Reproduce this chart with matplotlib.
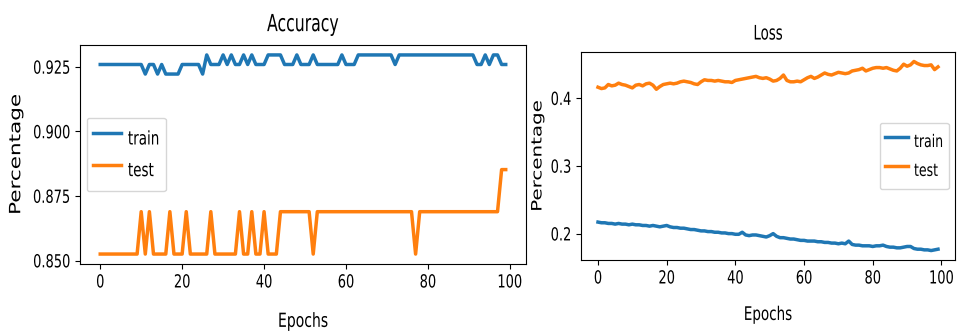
import matplotlib
matplotlib.use("Agg")
import matplotlib.pyplot as plt
from matplotlib.patheffects import AbstractPathEffect
from matplotlib.transforms import Affine2D
from matplotlib.ticker import MultipleLocator, FormatStrFormatter

epochs = list(range(100))

# accuracy per epoch
acc_train = [
    0.9259, 0.9259, 0.9259, 0.9259, 0.9259, 0.9259, 0.9259, 0.9259, 0.9259, 0.9259,
    0.9259, 0.9222, 0.9259, 0.9259, 0.9222, 0.9259, 0.9222, 0.9222, 0.9222, 0.9222,
    0.9259, 0.9259, 0.9259, 0.9259, 0.9259, 0.9222, 0.9296, 0.9259, 0.9259, 0.9259,
    0.9296, 0.9259, 0.9296, 0.9259, 0.9259, 0.9296, 0.9259, 0.9296, 0.9259, 0.9259,
    0.9259, 0.9296, 0.9296, 0.9296, 0.9296, 0.9259, 0.9259, 0.9259, 0.9296, 0.9259,
    0.9259, 0.9259, 0.9296, 0.9259, 0.9259, 0.9259, 0.9259, 0.9259, 0.9259, 0.9296,
    0.9259, 0.9259, 0.9259, 0.9296, 0.9296, 0.9296, 0.9296, 0.9296, 0.9296, 0.9296,
    0.9296, 0.9296, 0.9259, 0.9296, 0.9296, 0.9296, 0.9296, 0.9296, 0.9296, 0.9296,
    0.9296, 0.9296, 0.9296, 0.9296, 0.9296, 0.9296, 0.9296, 0.9296, 0.9296, 0.9296,
    0.9296, 0.9296, 0.9259, 0.9259, 0.9296, 0.9259, 0.9296, 0.9296, 0.9259, 0.9259,
]
acc_test = [
    0.8525, 0.8525, 0.8525, 0.8525, 0.8525, 0.8525, 0.8525, 0.8525, 0.8525, 0.8525,
    0.8689, 0.8525, 0.8689, 0.8525, 0.8525, 0.8525, 0.8525, 0.8689, 0.8525, 0.8525,
    0.8525, 0.8689, 0.8525, 0.8525, 0.8525, 0.8525, 0.8525, 0.8689, 0.8525, 0.8525,
    0.8525, 0.8525, 0.8525, 0.8525, 0.8689, 0.8525, 0.8525, 0.8689, 0.8525, 0.8525,
    0.8689, 0.8525, 0.8525, 0.8525, 0.8689, 0.8689, 0.8689, 0.8689, 0.8689, 0.8689,
    0.8689, 0.8689, 0.8525, 0.8689, 0.8689, 0.8689, 0.8689, 0.8689, 0.8689, 0.8689,
    0.8689, 0.8689, 0.8689, 0.8689, 0.8689, 0.8689, 0.8689, 0.8689, 0.8689, 0.8689,
    0.8689, 0.8689, 0.8689, 0.8689, 0.8689, 0.8689, 0.8689, 0.8525, 0.8689, 0.8689,
    0.8689, 0.8689, 0.8689, 0.8689, 0.8689, 0.8689, 0.8689, 0.8689, 0.8689, 0.8689,
    0.8689, 0.8689, 0.8689, 0.8689, 0.8689, 0.8689, 0.8689, 0.8689, 0.8852, 0.8852,
]

# loss per epoch
loss_train = [
    0.217, 0.216, 0.216, 0.215, 0.215, 0.214, 0.215, 0.214, 0.214, 0.213,
    0.214, 0.213, 0.213, 0.212, 0.212, 0.211, 0.212, 0.211, 0.210, 0.211,
    0.212, 0.210, 0.209, 0.209, 0.208, 0.208, 0.207, 0.206, 0.206, 0.205,
    0.204, 0.204, 0.203, 0.203, 0.202, 0.202, 0.201, 0.201, 0.200, 0.200,
    0.199, 0.199, 0.202, 0.198, 0.197, 0.198, 0.198, 0.197, 0.196, 0.195,
    0.197, 0.200, 0.196, 0.194, 0.194, 0.193, 0.192, 0.192, 0.191, 0.190,
    0.190, 0.189, 0.189, 0.189, 0.188, 0.188, 0.187, 0.187, 0.186, 0.186,
    0.185, 0.186, 0.185, 0.189, 0.184, 0.183, 0.183, 0.182, 0.182, 0.182,
    0.181, 0.182, 0.182, 0.183, 0.181, 0.180, 0.180, 0.179, 0.179, 0.180,
    0.181, 0.181, 0.178, 0.177, 0.177, 0.176, 0.176, 0.175, 0.176, 0.177,
]
loss_test = [
    0.416, 0.414, 0.415, 0.420, 0.418, 0.419, 0.422, 0.420, 0.419, 0.417,
    0.415, 0.419, 0.420, 0.418, 0.421, 0.422, 0.419, 0.413, 0.417, 0.420,
    0.421, 0.422, 0.421, 0.422, 0.424, 0.425, 0.424, 0.423, 0.421, 0.420,
    0.424, 0.427, 0.426, 0.426, 0.425, 0.426, 0.425, 0.424, 0.424, 0.423,
    0.426, 0.427, 0.428, 0.429, 0.430, 0.431, 0.432, 0.430, 0.429, 0.430,
    0.428, 0.425, 0.426, 0.429, 0.434, 0.426, 0.424, 0.424, 0.425, 0.424,
    0.427, 0.430, 0.432, 0.429, 0.431, 0.434, 0.437, 0.435, 0.434, 0.436,
    0.438, 0.437, 0.436, 0.437, 0.440, 0.441, 0.442, 0.444, 0.440, 0.442,
    0.444, 0.445, 0.445, 0.444, 0.445, 0.443, 0.441, 0.440, 0.444, 0.450,
    0.447, 0.449, 0.454, 0.451, 0.449, 0.448, 0.448, 0.449, 0.442, 0.446,
]

K = 0.72  # source picture is squashed sideways, so text is narrow and tall


class Stretch(AbstractPathEffect):
    """scale glyph outlines along font x/y about a reference point"""

    def __init__(self, sx=1.0, sy=1.0, yref="base"):
        super().__init__()
        self.sx, self.sy, self.yref = sx, sy, yref

    def draw_path(self, renderer, gc, tpath, affine, rgbFace=None):
        if len(tpath.vertices) == 0:
            return
        ext = tpath.get_extents()
        cx = (ext.x0 + ext.x1) / 2
        if self.yref == "top":
            cy = ext.y1
        elif self.yref == "mid":
            cy = (ext.y0 + ext.y1) / 2
        else:
            cy = 0
        t = Affine2D().translate(-cx, -cy).scale(self.sx, self.sy).translate(cx, cy) + affine
        renderer.draw_path(gc, tpath, t, rgbFace)


fig = plt.figure(figsize=(9.6, 3.33), dpi=100)
ax1 = fig.add_axes([0.0833, 0.2072, 0.4646, 0.6577])
ax2 = fig.add_axes([0.6052, 0.2192, 0.3896, 0.6246])

ax1.plot(epochs, acc_train, lw=2.5, label="train")
ax1.plot(epochs, acc_test, lw=2.5, label="test")
ax1.set_title("Accuracy", fontsize=11.3, pad=10)
ax1.set_xlabel("Epochs", fontsize=14 * K, labelpad=18)
ax1.set_ylabel("Percentage", fontsize=15.5)
ax1.yaxis.set_label_coords(-0.125, 0.5)
ax1.yaxis.set_major_locator(MultipleLocator(0.025))
ax1.yaxis.set_major_formatter(FormatStrFormatter("%.3f"))
ax1.tick_params(labelsize=13 * K)
ax1.legend(loc="center left", fontsize=13.5 * K, handlelength=2.1, handleheight=3.0,
           handletextpad=0.5, labelspacing=0.16, borderpad=0.45)

ax2.plot(epochs, loss_train, lw=2.5, label="train")
ax2.plot(epochs, loss_test, lw=2.5, label="test")
ax2.set_title("Loss", fontsize=9.6, pad=9)
ax2.set_xlabel("Epochs", fontsize=13.5 * K, labelpad=16)
ax2.set_ylabel("Percentage", fontsize=14.3)
ax2.yaxis.set_label_coords(-0.095, 0.5)
ax2.yaxis.set_major_locator(MultipleLocator(0.1))
ax2.yaxis.set_major_formatter(FormatStrFormatter("%.1f"))
ax2.tick_params(labelsize=13 * K)
ax2.legend(loc="center right", fontsize=12.5 * K, handlelength=1.8, handleheight=2.8,
           handletextpad=0.5, labelspacing=0.26, borderpad=0.45)

fig.canvas.draw()
for ax in (ax1, ax2):
    for t in ax.get_xticklabels() + [ax.xaxis.label]:
        t.set_path_effects([Stretch(sy=1 / K, yref="top")])
    for t in ax.get_yticklabels() + ax.get_legend().get_texts():
        t.set_path_effects([Stretch(sy=1 / K, yref="mid")])
    ax.title.set_path_effects([Stretch(sy=1.5, yref="base")])
    ax.yaxis.label.set_path_effects([Stretch(sy=0.72, yref="base")])

fig.savefig("out.png", dpi=100)
